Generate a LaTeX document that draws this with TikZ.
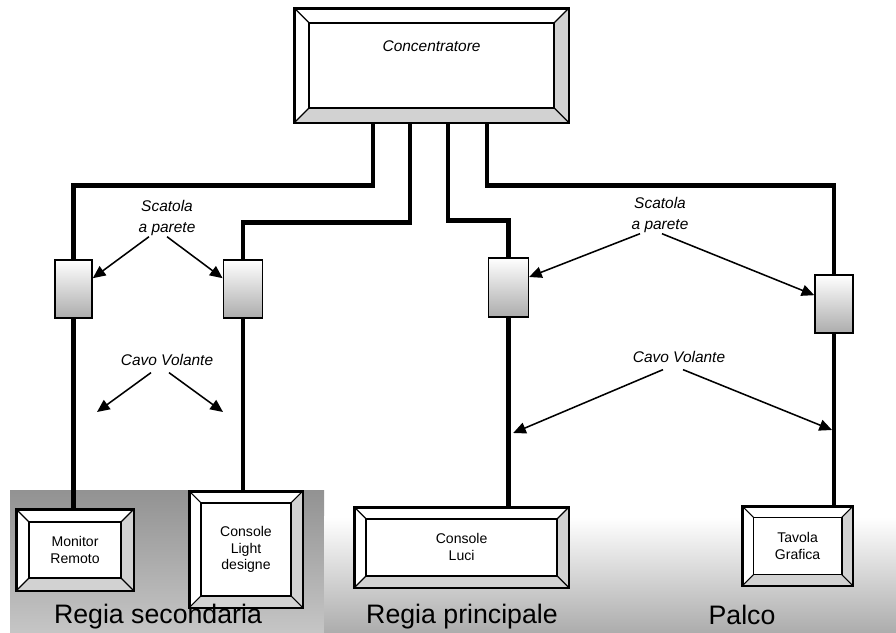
\documentclass[tikz,border=0pt]{standalone}
\usepackage{fontspec}
\setmainfont{Liberation Sans}
\usetikzlibrary{arrows.meta}
\tikzset{
  panel/.style={draw,line width=1.2pt,fill=white,shape=rectangle,align=center,font=\normalsize},
  wallbox/.style={draw,line width=1pt,shape=rectangle,top color=white,middle color=white,bottom color=gray!65},
  cable/.style={line width=3.2pt},
  pointer/.style={line width=1.1pt,-{Triangle[length=9pt,width=8pt]}},
  tag/.style={font=\fontsize{11}{13}\selectfont\itshape,align=center},
  area/.style={font=\fontsize{19}{20}\selectfont}
}
% bevelled frame round a panel node: #1 node, #2 bevel width
\newcommand{\bevel}[2]{%
  \fill[gray!35] (#1.south west) -- (#1.south east) -- (#1.north east)
    -- ([shift={(-#2,-#2)}]#1.north east) -- ([shift={(-#2,#2)}]#1.south east)
    -- ([shift={(#2,#2)}]#1.south west) -- cycle;
  \draw[line width=1.2pt] (#1.south west) rectangle (#1.north east);
  \draw[line width=1.2pt] ([shift={(#2,#2)}]#1.south west) rectangle ([shift={(-#2,-#2)}]#1.north east);
  \draw[line width=0.8pt] (#1.south west) -- ++(#2,#2);
  \draw[line width=0.8pt] (#1.south east) -- ++(-#2,#2);
  \draw[line width=0.8pt] (#1.north east) -- ++(-#2,-#2);
  \draw[line width=0.8pt] (#1.north west) -- ++(#2,-#2);
}
\begin{document}
\begin{tikzpicture}
\useasboundingbox (0,0) rectangle (22.4,15.825);
% background of the rooms
\shade[top color=gray!85,bottom color=gray!45] (0.25,0) rectangle (8.1,3.55);
\shade[top color=white,bottom color=gray!65] (8.1,0) rectangle (22.4,2.9);

% hub
\node[panel,minimum width=6.825cm,minimum height=2.825cm,text height=0.3cm,text depth=1cm,font=\fontsize{11}{13}\selectfont\itshape](conc) at (10.79,14.19){Concentratore};
\bevel{conc}{0.375cm}

% wall boxes
\node[wallbox,minimum width=0.925cm,minimum height=1.45cm](sc1) at (1.84,8.6){};
\node[wallbox,minimum width=0.975cm,minimum height=1.45cm](sc2) at (6.07,8.6){};
\node[wallbox,minimum width=1cm,minimum height=1.475cm](sc3) at (12.71,8.64){};
\node[wallbox,minimum width=0.95cm,minimum height=1.45cm](sc4) at (20.85,8.225){};

% end devices
\node[panel,minimum width=2.9cm,minimum height=2cm](mon) at (1.875,2.075){Monitor\\Remoto};
\bevel{mon}{0.32cm}
\node[panel,minimum width=2.8cm,minimum height=2.875cm](cld) at (6.15,2.09){Console\\Light\\designe};
\bevel{cld}{0.3cm}
\node[panel,minimum width=5.325cm,minimum height=1.975cm](luci) at (11.54,2.14){Console\\Luci};
\bevel{luci}{0.3cm}
\node[panel,minimum width=2.725cm,minimum height=1.95cm](tav) at (19.94,2.175){Tavola\\Grafica};
\bevel{tav}{0.28cm}

% cables
\draw[cable] ([xshift=-1.465cm]conc.south) -- ++(0,-1.575) -| (sc1.north);
\draw[cable] ([xshift=-0.54cm]conc.south) -- ++(0,-2.5) -| (sc2.north);
\draw[cable] ([xshift=0.41cm]conc.south) -- ++(0,-2.45) -| (sc3.north);
\draw[cable] ([xshift=1.385cm]conc.south) -- ++(0,-1.575) -| (sc4.north);
\draw[cable] (sc1.south) -- (sc1.south |- mon.north);
\draw[cable] (sc2.south) -- (sc2.south |- cld.north);
\draw[cable] (sc3.south) -- (sc3.south |- luci.north);
\draw[cable] (sc4.south) -- (sc4.south |- tav.north);

% labels and pointers
\node[tag](scL) at (4.175,10.375){Scatola\\[2pt]a parete};
\node[tag](scR) at (16.5,10.45){Scatola\\[2pt]a parete};
\node[tag](cvL) at (4.175,6.825){Cavo Volante};
\node[tag](cvR) at (16.975,6.9){Cavo Volante};
\coordinate (cvL1) at (2.425,5.525);
\coordinate (cvL2) at (5.575,5.525);
\coordinate (cvR1) at (12.83,5.0);
\coordinate (cvR2) at (20.8,5.075);
\draw[pointer] ([xshift=-0.45cm,yshift=0.1cm]scL.south) -- ([yshift=0.27cm]sc1.east);
\draw[pointer] ([xshift=0cm,yshift=0.1cm]scL.south) -- ([yshift=0.27cm]sc2.west);
\draw[pointer] ([xshift=-0.5cm,yshift=0.1cm]scR.south) -- ([yshift=0.26cm]sc3.east);
\draw[pointer] ([xshift=0.05cm,yshift=0.1cm]scR.south) -- ([yshift=0.22cm]sc4.west);
\draw[pointer] ([xshift=-0.4cm,yshift=-0.05cm]cvL.south) -- (cvL1);
\draw[pointer] ([xshift=0.05cm,yshift=-0.05cm]cvL.south) -- (cvL2);
\draw[pointer] ([xshift=-0.4cm,yshift=-0.05cm]cvR.south) -- (cvR1);
\draw[pointer] ([xshift=0.1cm,yshift=-0.05cm]cvR.south) -- (cvR2);

% rooms
\node[area](rs) at (3.95,0.42){Regia secondaria};
\node[area](rp) at (11.55,0.42){Regia principale};
\node[area](pa) at (18.55,0.45){Palco};
\end{tikzpicture}
\end{document}
